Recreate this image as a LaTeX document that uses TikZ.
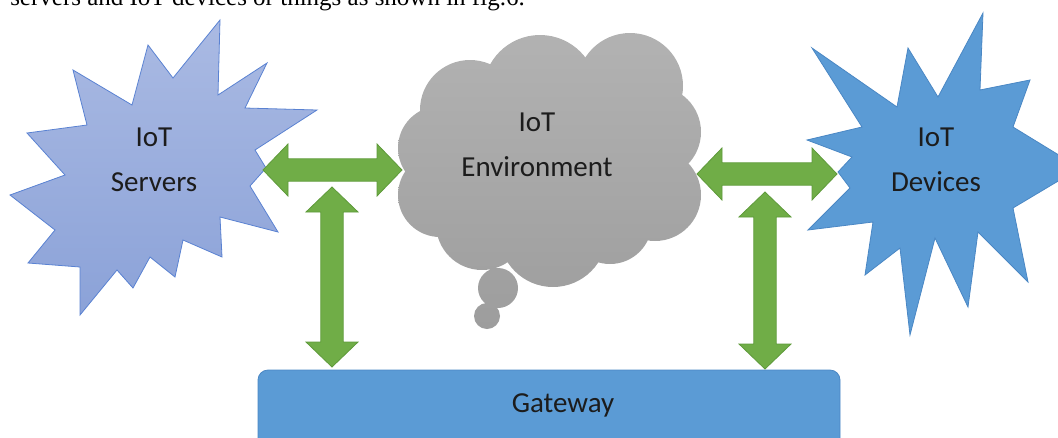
\documentclass[tikz,border=0pt]{standalone}
\usepackage{fontspec}
\setmainfont{Carlito}
\newfontfamily\capfont{Liberation Serif}
\usetikzlibrary{calc}
\definecolor{srvtop}{HTML}{AABAE3}
\definecolor{srvbot}{HTML}{8BA2D8}
\definecolor{srvedge}{HTML}{5A82D2}
\definecolor{devfill}{HTML}{5B9BD5}
\definecolor{devedge}{HTML}{4A87C4}
\definecolor{cloudtop}{HTML}{B2B2B2}
\definecolor{cloudbot}{HTML}{9D9D9D}
\definecolor{arrgreen}{HTML}{70AD47}
\definecolor{arredge}{HTML}{5E9A3A}
\definecolor{txt}{HTML}{1C1C1C}
\tikzset{
  lbl/.style={font=\fontsize{21.75}{33.75}\selectfont, text=txt, align=center, inner sep=0pt},
  srvshape/.style={top color=srvtop, bottom color=srvbot, draw=srvedge, line width=0.6pt, line join=miter},
  devshape/.style={fill=devfill, draw=devedge, line width=0.6pt},
  cloudshape/.style={top color=cloudtop, bottom color=cloudbot},
  gwshape/.style={fill=devfill, draw=devedge, line width=0.6pt, rounded corners=7.5pt},
  blockarr/.style={fill=arrgreen, draw=arredge, line width=0.6pt, line join=miter}
}
\newcommand\dblarrow[2]{%
  \path[blockarr] (#1)
   -- ($(#1)!18.75pt!(#2)!19.5pt!90:(#2)$)
   -- ($(#1)!18.75pt!(#2)!8.4pt!90:(#2)$)
   -- ($(#2)!18.75pt!(#1)!8.4pt!90:(#2)$)
   -- ($(#2)!18.75pt!(#1)!19.5pt!90:(#2)$)
   -- (#2)
   -- ($(#2)!18.75pt!(#1)!19.5pt!-90:(#2)$)
   -- ($(#2)!18.75pt!(#1)!8.4pt!-90:(#2)$)
   -- ($(#1)!18.75pt!(#2)!8.4pt!-90:(#2)$)
   -- ($(#1)!18.75pt!(#2)!19.5pt!-90:(#2)$)
   -- cycle;}
\begin{document}
\begin{tikzpicture}[x=0.75pt,y=-0.75pt]
\useasboundingbox (0,0) rectangle (1058,437);
\clip (0,0) rectangle (1058,437);
% caption line cut at the top
\node[anchor=base west, inner sep=0pt, font=\capfont\fontsize{18.75}{20}\selectfont] (cap) at (10,5) {servers and IoT devices or things as shown in fig.6.};
% IoT servers star
\path[srvshape] (220,20) -- (218,95) -- (267,63) -- (245,108) -- (317,110) -- (255,150) -- (266,168) -- (250,186) -- (278,232) -- (220,217) -- (222,257) -- (183,240) -- (175,277) -- (150,257) -- (133,288) -- (117,270) -- (80,315) -- (80,267) -- (28,263) -- (55,230) -- (10,195) -- (65,175) -- (27,133) -- (87,125) -- (73,70) -- (132,105) -- (148,45) -- (173,78) -- cycle;
\node[lbl] (srv) at (154,160) {IoT\\Servers};
% IoT devices star
\path[devshape] (812,48) -- (897,107) -- (908,48) -- (938,97) -- (983,13) -- (980,90) -- (1030,80) -- (1013,127) -- (1080,168) -- (1013,208) -- (1028,282) -- (978,232) -- (968,307) -- (935,238) -- (910,335) -- (900,248) -- (865,275) -- (873,222) -- (808,230) -- (850,188) -- (838,172) -- (852,157) -- (807,140) -- (862,127) -- cycle;
\node[lbl] (dev) at (936,160) {IoT\\Devices};
% cloud
\path[cloudshape]
  (470,110) circle[radius=50] (540,92) circle[radius=57] (630,86) circle[radius=53]
  (655,132) circle[radius=46] (655,195) circle[radius=46] (610,222) circle[radius=42]
  (553,233) circle[radius=54] (482,224) circle[radius=46] (440,195) circle[radius=42]
  (440,148) circle[radius=42] (550,160) circle[radius=100]
  (498,288) circle[radius=20] (487,316) circle[radius=13];
\node[lbl] (env) at (537,145) {IoT\\Environment};
% gateway
\path[gwshape] (258,370) rectangle (840,470);
\node[lbl] (gw) at (563,405) {Gateway};
% connectors
\coordinate (a1s) at (263,170);
\coordinate (a1e) at (402,170);
\coordinate (a2s) at (332,187);
\coordinate (a2e) at (332,367);
\coordinate (a3s) at (697,174);
\coordinate (a3e) at (837,174);
\coordinate (a4s) at (765,192);
\coordinate (a4e) at (765,369);
\dblarrow{a1s}{a1e}
\dblarrow{a2s}{a2e}
\dblarrow{a3s}{a3e}
\dblarrow{a4s}{a4e}
\end{tikzpicture}
\end{document}
